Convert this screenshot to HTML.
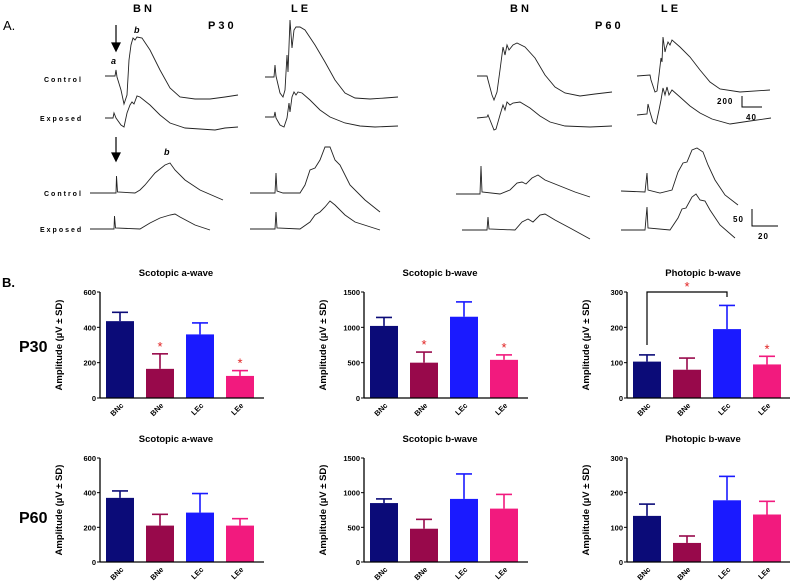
<!DOCTYPE html>
<html><head><meta charset="utf-8"><style>
body{margin:0;background:#fff;width:790px;height:588px;overflow:hidden}
svg{display:block;font-family:"Liberation Sans",sans-serif}
.tr{fill:none;stroke:#222;stroke-width:0.9}
.lb{font-size:7px;font-weight:bold;letter-spacing:2px}
.hd{font-size:11px;font-weight:bold;letter-spacing:3px}
.tk{font-size:7.5px;font-weight:bold;text-anchor:end}
.tt{font-size:9.5px;font-weight:bold;text-anchor:middle}
</style></head><body>
<svg id="fig" width="790" height="588" viewBox="0 0 790 588">
<g>
<text x="3" y="30" font-size="13">A.</text>
<text x="133" y="12" class="hd">BN</text>
<text x="291" y="12" class="hd">LE</text>
<text x="208" y="29" class="hd" font-size="10">P30</text>
<text x="510" y="12" class="hd">BN</text>
<text x="661" y="12" class="hd">LE</text>
<text x="595" y="29" class="hd" font-size="10">P60</text>
<text x="44" y="82" class="lb">Control</text>
<text x="40" y="121" class="lb">Exposed</text>
<text x="44" y="196" class="lb">Control</text>
<text x="40" y="232" class="lb">Exposed</text>
<text x="111" y="64" font-size="9" font-weight="bold" font-style="italic">a</text>
<text x="134" y="33" font-size="9" font-weight="bold" font-style="italic">b</text>
<text x="164" y="155" font-size="9" font-weight="bold" font-style="italic">b</text>
<g stroke="#000" stroke-width="1.2" fill="#000">
<line x1="116" y1="25" x2="116" y2="44"/><polygon points="112,43 120,43 116,51"/>
<line x1="116" y1="137" x2="116" y2="154"/><polygon points="112,153 120,153 116,161"/>
</g>
<polyline class="tr" stroke-width="1.3" points="105,76 115,76 116,70 117,77 121,90 124,104 127,95 129,60 131,45 133,38 135,40 137,37 142,38 150,50 160,70 170,88 180,97 195,99 210,99 225,97 238,95"/>
<polyline class="tr" points="105,118 113,118 114,113 116,118 121,125 124,127 127,113 130,105 132,102 134,104 137,96 140,97 150,105 160,115 170,123 185,128 200,129 215,130 225,128 238,127"/>
<polyline class="tr" stroke-width="1.3" points="265,77 274,77 275,65 276,76 280,93 283,97 285,90 287,55 288,72 290,20 292,48 294,30 296,27 300,27 305,30 315,45 325,62 335,80 345,93 355,98 370,99 385,98 398,97"/>
<polyline class="tr" stroke-width="1.3" points="265,117 274,117 275,112 276,118 280,125 284,127 287,118 289,103 290,112 292,97 294,92 296,95 298,92 302,93 310,100 320,110 330,117 345,123 360,126 375,127 398,126"/>
<polyline class="tr" points="90,193 116,193 116.5,176 117.5,192 135,193 140,190 145,185 155,173 165,165 170,163 175,170 185,180 200,190 223,200"/>
<polyline class="tr" points="90,229 114,229 114.5,216 115.5,228 140,229 150,223 160,218 170,215 175,214 180,217 195,225 210,230"/>
<polyline class="tr" points="250,193 275,193 276,173 277,191 283,193 300,193 305,185 310,170 315,168 320,160 325,147 330,147 335,160 340,165 350,185 365,200 380,212"/>
<polyline class="tr" points="250,229 275,229 276,212 277,228 300,229 310,222 315,215 320,212 325,207 330,201 335,205 345,215 355,222 380,230"/>
<polyline class="tr" points="477,76 487,76 488,80 492,95 494,100 497,92 500,70 503,47 505,55 507,45 509,50 513,45 517,43 525,47 535,58 545,75 555,87 565,93 580,96 595,94 612,92"/>
<polyline class="tr" points="477,118 487,117 488,115 490,120 494,130 496,129 500,115 503,105 505,110 507,102 510,105 513,103 520,102 530,108 540,116 550,122 565,126 590,127 612,126"/>
<polyline class="tr" points="637,76 650,75 651,80 655,92 657,91 659,75 661,58 662,62 663,37 665,52 666,48 668,42 670,45 672,40 680,47 690,57 700,70 710,82 720,89 740,92 770,90"/>
<polyline class="tr" points="637,115 647,114 648,104 650,112 653,122 656,124 659,110 661,100 663,88 665,95 667,87 669,95 672,90 680,97 690,106 700,113 712,119 730,124 750,121 771,118"/>
<polyline class="tr" points="456,194 480,194 481,166 482,192 500,194 510,190 517,183 522,182 526,184 532,178 538,175 545,180 560,186 575,192 590,197"/>
<polyline class="tr" points="462,230 487,230 488,217 489,229 515,230 522,222 528,219 533,222 540,215 545,214 555,220 570,228 590,239"/>
<polyline class="tr" points="621,191 645,192 647,173 648,190 660,193 672,190 678,172 683,163 687,162 692,150 697,148 703,152 708,165 715,180 725,195 738,205"/>
<polyline class="tr" points="621,230 645,230 647,207 648,228 670,230 678,218 682,209 686,208 692,197 696,194 700,200 705,201 710,210 720,225 735,238"/>
<g stroke="#000" stroke-width="1" fill="none">
<polyline points="742,96 742,107 762,107"/><polyline points="752,209 752,226 778,226"/>
</g>
<text x="717" y="104" font-size="8" font-weight="bold" letter-spacing="1">200</text>
<text x="746" y="120" font-size="8" font-weight="bold" letter-spacing="1">40</text>
<text x="733" y="222" font-size="8" font-weight="bold" letter-spacing="1">50</text>
<text x="758" y="239" font-size="8" font-weight="bold" letter-spacing="1">20</text>
</g>
<text x="2" y="287" font-size="13" font-weight="bold">B.</text>
<text x="19" y="352" font-size="16" font-weight="bold">P30</text>
<text x="19" y="523" font-size="16" font-weight="bold">P60</text>
<g id="charts"></g>
</svg>
<script>
const categories=["BNc","BNe","LEc","LEe"];
const colors=["#0b0b78","#98094b","#1a1aff","#f21a7e"];
const titles=["Scotopic a-wave","Scotopic b-wave","Photopic b-wave","Scotopic a-wave","Scotopic b-wave","Photopic b-wave"];
const yMax=[600,1500,300,600,1500,300];
const yStep=[200,500,100,200,500,100];
const means=[[435,165,360,125],[1020,500,1150,540],[103,80,195,95],[370,210,285,210],[850,480,910,770],[133,55,178,137]];
const errTops=[[485,250,425,155],[1140,650,1360,610],[122,113,262,118],[410,275,395,250],[910,615,1270,975],[167,75,247,175]];
const stars=[[0,1,0,1],[0,1,0,1],[0,0,0,1],[0,0,0,0],[0,0,0,0],[0,0,0,0]];
const NS="http://www.w3.org/2000/svg";
const G=document.getElementById('charts');
function mk(t,a,p){const e=document.createElementNS(NS,t);for(const k in a)e.setAttribute(k,a[k]);(p||G).appendChild(e);return e;}
const axX=[100,364,627],axY0=[398,562],axH=[106,104];
for(let c=0;c<6;c++){
  const col=c%3,row=Math.floor(c/3);
  const x0=axX[col],y0=axY0[row],h=axH[row];
  const y=v=>y0-v/yMax[c]*h;
  const bx=i=>x0+6+i*40;
  const g=mk('g',{});
  
  
  const t=mk('text',{x:x0+76,y:y0-h-16,class:'tt'},g);t.textContent=titles[c];
  
  
  const yt=mk('text',{x:0,y:0,class:'tt','font-size':'8.5',transform:`translate(${x0-38},${y0-h/2}) rotate(-90)`},g);
  yt.textContent='Amplitude (µV ± SD)';
  
  
  for(let i=0;i<4;i++){
    const cx=bx(i)+14;
    mk('line',{x1:cx,x2:cx,y1:y(means[c][i]),y2:y(errTops[c][i]),stroke:colors[i],'stroke-width':1.6},g);
    mk('line',{x1:cx-8,x2:cx+8,y1:y(errTops[c][i]),y2:y(errTops[c][i]),stroke:colors[i],'stroke-width':1.6},g);
    const r=mk('rect',{x:bx(i),y:y(means[c][i]),width:28,height:y0-y(means[c][i]),fill:colors[i]},g);
    
    
    const l=mk('text',{x:0,y:0,'font-size':'7.5','font-weight':'bold','text-anchor':'end',transform:`translate(${cx+4},${y0+8}) rotate(-45)`},g);
    l.textContent=categories[i];
    
    
    if(stars[c][i]){const s=mk('text',{x:cx,y:y(errTops[c][i])-3,fill:'#e02020','font-size':'13','text-anchor':'middle'},g);s.textContent='*';
      
      }
  }
  mk('line',{x1:x0,x2:x0,y1:y0-h,y2:y0+0.5,stroke:'#000','stroke-width':1.3},g);
  mk('line',{x1:x0,x2:x0+164,y1:y0,y2:y0,stroke:'#000','stroke-width':1.3},g);
  for(let v=0;v<=yMax[c];v+=yStep[c]){
    mk('line',{x1:x0-3,x2:x0,y1:y(v),y2:y(v),stroke:'#000'},g);
    const tk=mk('text',{x:x0-4,y:y(v)+3,class:'tk'},g);tk.textContent=v;
    
    
  }
  if(c===2){
    const a=bx(0)+14,b=bx(2)+14;
    const br=mk('polyline',{points:`${a},${y(150)} ${a},${y0-h} ${b},${y0-h} ${b},${y0-h+5}`,fill:'none',stroke:'#000','stroke-width':1.2},g);
    
    
    const s=mk('text',{x:(a+b)/2,y:y0-h-1,fill:'#e02020','font-size':'13','text-anchor':'middle'},g);s.textContent='*';
    
    
  }
}
</script>
</body></html>
